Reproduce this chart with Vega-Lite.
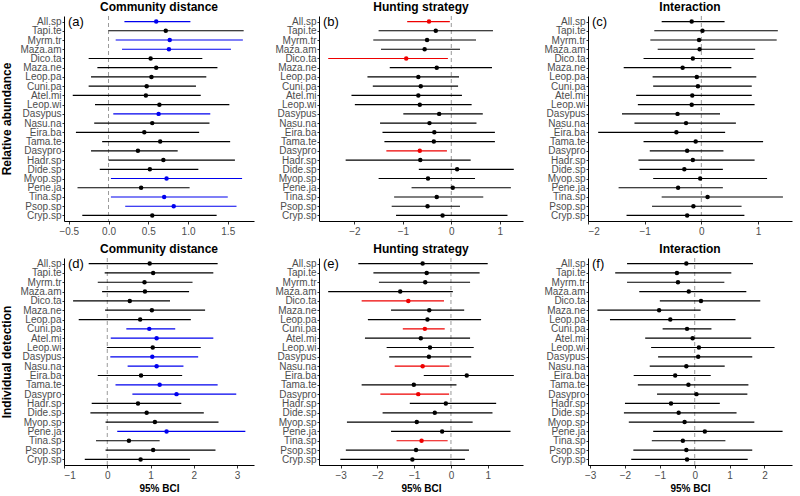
{
 "$schema": "https://vega.github.io/schema/vega-lite/v6.json",
 "padding": {"left": 0, "top": 0, "right": 4, "bottom": 0},
 "config": {
  "font": "Liberation Sans",
  "view": {"stroke": null},
  "axis": {"grid": false, "domainColor": "#000000", "domainWidth": 1, "tickColor": "#333333", "tickSize": 3, "labelColor": "#4d4d4d", "labelFontSize": 10, "titleFontWeight": "bold", "titleColor": "#000000"},
  "title": {"fontSize": 12, "fontWeight": "bold", "offset": 2, "color": "#000000", "frame": "group", "anchor": "middle"}
 },
 "datasets": {
  "d": [
   {"p":"a","sp":"All.sp","lo":0.20,"est":0.60,"hi":1.03,"s":"p"},
   {"p":"a","sp":"Tapi.te","lo":0.00,"est":0.72,"hi":1.70,"s":"n"},
   {"p":"a","sp":"Myrm.tr","lo":0.09,"est":0.77,"hi":1.69,"s":"p"},
   {"p":"a","sp":"Maza.am","lo":0.17,"est":0.76,"hi":1.54,"s":"p"},
   {"p":"a","sp":"Dico.ta","lo":-0.25,"est":0.53,"hi":1.18,"s":"n"},
   {"p":"a","sp":"Maza.ne","lo":-0.14,"est":0.60,"hi":1.37,"s":"n"},
   {"p":"a","sp":"Leop.pa","lo":-0.22,"est":0.54,"hi":1.23,"s":"n"},
   {"p":"a","sp":"Cuni.pa","lo":-0.25,"est":0.48,"hi":1.10,"s":"n"},
   {"p":"a","sp":"Atel.mi","lo":-0.45,"est":0.47,"hi":1.16,"s":"n"},
   {"p":"a","sp":"Leop.wi","lo":-0.17,"est":0.64,"hi":1.52,"s":"n"},
   {"p":"a","sp":"Dasypus","lo":0.06,"est":0.63,"hi":1.28,"s":"p"},
   {"p":"a","sp":"Nasu.na","lo":-0.18,"est":0.55,"hi":1.27,"s":"n"},
   {"p":"a","sp":"Eira.ba","lo":-0.41,"est":0.45,"hi":1.14,"s":"n"},
   {"p":"a","sp":"Tama.te","lo":-0.08,"est":0.65,"hi":1.53,"s":"n"},
   {"p":"a","sp":"Dasypro","lo":-0.22,"est":0.37,"hi":0.87,"s":"n"},
   {"p":"a","sp":"Hadr.sp","lo":0.00,"est":0.69,"hi":1.59,"s":"n"},
   {"p":"a","sp":"Dide.sp","lo":-0.11,"est":0.52,"hi":1.13,"s":"n"},
   {"p":"a","sp":"Myop.sp","lo":0.03,"est":0.73,"hi":1.68,"s":"p"},
   {"p":"a","sp":"Pene.ja","lo":-0.39,"est":0.41,"hi":1.02,"s":"n"},
   {"p":"a","sp":"Tina.sp","lo":0.03,"est":0.70,"hi":1.50,"s":"p"},
   {"p":"a","sp":"Psop.sp","lo":0.21,"est":0.82,"hi":1.61,"s":"p"},
   {"p":"a","sp":"Cryp.sp","lo":-0.33,"est":0.55,"hi":1.36,"s":"n"},

   {"p":"b","sp":"All.sp","lo":-0.91,"est":-0.46,"hi":-0.03,"s":"m"},
   {"p":"b","sp":"Tapi.te","lo":-1.50,"est":-0.32,"hi":0.86,"s":"n"},
   {"p":"b","sp":"Myrm.tr","lo":-1.61,"est":-0.50,"hi":0.51,"s":"n"},
   {"p":"b","sp":"Maza.am","lo":-1.45,"est":-0.55,"hi":0.18,"s":"n"},
   {"p":"b","sp":"Dico.ta","lo":-2.54,"est":-0.93,"hi":-0.07,"s":"m"},
   {"p":"b","sp":"Maza.ne","lo":-1.27,"est":-0.30,"hi":0.84,"s":"n"},
   {"p":"b","sp":"Leop.pa","lo":-1.73,"est":-0.68,"hi":0.16,"s":"n"},
   {"p":"b","sp":"Cuni.pa","lo":-1.62,"est":-0.63,"hi":0.14,"s":"n"},
   {"p":"b","sp":"Atel.mi","lo":-2.06,"est":-0.68,"hi":0.22,"s":"n"},
   {"p":"b","sp":"Leop.wi","lo":-1.99,"est":-0.65,"hi":0.42,"s":"n"},
   {"p":"b","sp":"Dasypus","lo":-0.99,"est":-0.25,"hi":0.65,"s":"n"},
   {"p":"b","sp":"Nasu.na","lo":-1.47,"est":-0.45,"hi":0.52,"s":"n"},
   {"p":"b","sp":"Eira.ba","lo":-1.42,"est":-0.35,"hi":0.90,"s":"n"},
   {"p":"b","sp":"Tama.te","lo":-1.38,"est":-0.36,"hi":0.90,"s":"n"},
   {"p":"b","sp":"Dasypro","lo":-1.34,"est":-0.65,"hi":-0.09,"s":"m"},
   {"p":"b","sp":"Hadr.sp","lo":-2.18,"est":-0.64,"hi":0.40,"s":"n"},
   {"p":"b","sp":"Dide.sp","lo":-0.67,"est":0.12,"hi":1.29,"s":"n"},
   {"p":"b","sp":"Myop.sp","lo":-1.50,"est":-0.48,"hi":0.49,"s":"n"},
   {"p":"b","sp":"Pene.ja","lo":-0.82,"est":0.03,"hi":1.23,"s":"n"},
   {"p":"b","sp":"Tina.sp","lo":-1.18,"est":-0.30,"hi":0.66,"s":"n"},
   {"p":"b","sp":"Psop.sp","lo":-1.23,"est":-0.49,"hi":0.18,"s":"n"},
   {"p":"b","sp":"Cryp.sp","lo":-1.14,"est":-0.18,"hi":1.16,"s":"n"},

   {"p":"c","sp":"All.sp","lo":-0.70,"est":-0.17,"hi":0.41,"s":"n"},
   {"p":"c","sp":"Tapi.te","lo":-0.83,"est":0.02,"hi":1.35,"s":"n"},
   {"p":"c","sp":"Myrm.tr","lo":-0.90,"est":-0.04,"hi":1.33,"s":"n"},
   {"p":"c","sp":"Maza.am","lo":-0.77,"est":-0.03,"hi":0.95,"s":"n"},
   {"p":"c","sp":"Dico.ta","lo":-1.02,"est":-0.15,"hi":0.92,"s":"n"},
   {"p":"c","sp":"Maza.ne","lo":-1.37,"est":-0.33,"hi":0.53,"s":"n"},
   {"p":"c","sp":"Leop.pa","lo":-0.86,"est":-0.08,"hi":0.97,"s":"n"},
   {"p":"c","sp":"Cuni.pa","lo":-0.85,"est":-0.06,"hi":0.89,"s":"n"},
   {"p":"c","sp":"Atel.mi","lo":-1.15,"est":-0.16,"hi":0.89,"s":"n"},
   {"p":"c","sp":"Leop.wi","lo":-1.12,"est":-0.17,"hi":0.94,"s":"n"},
   {"p":"c","sp":"Dasypus","lo":-1.40,"est":-0.42,"hi":0.33,"s":"n"},
   {"p":"c","sp":"Nasu.na","lo":-1.18,"est":-0.27,"hi":0.61,"s":"n"},
   {"p":"c","sp":"Eira.ba","lo":-1.82,"est":-0.44,"hi":0.42,"s":"n"},
   {"p":"c","sp":"Tama.te","lo":-1.02,"est":-0.10,"hi":1.09,"s":"n"},
   {"p":"c","sp":"Dasypro","lo":-0.91,"est":-0.25,"hi":0.39,"s":"n"},
   {"p":"c","sp":"Hadr.sp","lo":-1.11,"est":-0.15,"hi":0.94,"s":"n"},
   {"p":"c","sp":"Dide.sp","lo":-1.09,"est":-0.30,"hi":0.38,"s":"n"},
   {"p":"c","sp":"Myop.sp","lo":-0.85,"est":-0.02,"hi":1.16,"s":"n"},
   {"p":"c","sp":"Pene.ja","lo":-1.46,"est":-0.41,"hi":0.38,"s":"n"},
   {"p":"c","sp":"Tina.sp","lo":-0.70,"est":0.11,"hi":1.44,"s":"n"},
   {"p":"c","sp":"Psop.sp","lo":-0.87,"est":-0.14,"hi":0.71,"s":"n"},
   {"p":"c","sp":"Cryp.sp","lo":-1.32,"est":-0.25,"hi":0.76,"s":"n"},

   {"p":"d","sp":"All.sp","lo":-0.43,"est":0.98,"hi":2.55,"s":"n"},
   {"p":"d","sp":"Tapi.te","lo":-0.06,"est":1.06,"hi":2.45,"s":"n"},
   {"p":"d","sp":"Myrm.tr","lo":-0.22,"est":0.86,"hi":1.97,"s":"n"},
   {"p":"d","sp":"Maza.am","lo":-0.12,"est":0.87,"hi":1.89,"s":"n"},
   {"p":"d","sp":"Dico.ta","lo":-0.79,"est":0.52,"hi":1.45,"s":"n"},
   {"p":"d","sp":"Maza.ne","lo":-0.05,"est":1.03,"hi":2.26,"s":"n"},
   {"p":"d","sp":"Leop.pa","lo":-0.66,"est":0.76,"hi":1.93,"s":"n"},
   {"p":"d","sp":"Cuni.pa","lo":0.44,"est":0.97,"hi":1.57,"s":"p"},
   {"p":"d","sp":"Atel.mi","lo":0.08,"est":1.14,"hi":2.45,"s":"p"},
   {"p":"d","sp":"Leop.wi","lo":-0.01,"est":1.05,"hi":2.16,"s":"n"},
   {"p":"d","sp":"Dasypus","lo":0.07,"est":1.04,"hi":2.10,"s":"p"},
   {"p":"d","sp":"Nasu.na","lo":0.47,"est":1.14,"hi":1.76,"s":"p"},
   {"p":"d","sp":"Eira.ba","lo":-0.22,"est":0.78,"hi":1.73,"s":"n"},
   {"p":"d","sp":"Tama.te","lo":0.19,"est":1.21,"hi":2.55,"s":"p"},
   {"p":"d","sp":"Dasypro","lo":0.58,"est":1.60,"hi":2.98,"s":"p"},
   {"p":"d","sp":"Hadr.sp","lo":-0.36,"est":0.71,"hi":1.71,"s":"n"},
   {"p":"d","sp":"Dide.sp","lo":-0.39,"est":0.91,"hi":2.23,"s":"n"},
   {"p":"d","sp":"Myop.sp","lo":-0.04,"est":1.10,"hi":2.57,"s":"n"},
   {"p":"d","sp":"Pene.ja","lo":0.23,"est":1.37,"hi":3.19,"s":"p"},
   {"p":"d","sp":"Tina.sp","lo":-0.26,"est":0.50,"hi":1.21,"s":"n"},
   {"p":"d","sp":"Psop.sp","lo":-0.04,"est":1.06,"hi":2.50,"s":"n"},
   {"p":"d","sp":"Cryp.sp","lo":-0.52,"est":0.77,"hi":1.91,"s":"n"},

   {"p":"e","sp":"All.sp","lo":-2.52,"est":-0.77,"hi":1.00,"s":"n"},
   {"p":"e","sp":"Tapi.te","lo":-2.11,"est":-0.66,"hi":0.78,"s":"n"},
   {"p":"e","sp":"Myrm.tr","lo":-1.96,"est":-0.70,"hi":0.52,"s":"n"},
   {"p":"e","sp":"Maza.am","lo":-3.34,"est":-1.38,"hi":0.05,"s":"n"},
   {"p":"e","sp":"Dico.ta","lo":-2.43,"est":-1.16,"hi":-0.19,"s":"m"},
   {"p":"e","sp":"Maza.ne","lo":-1.63,"est":-0.59,"hi":0.36,"s":"n"},
   {"p":"e","sp":"Leop.pa","lo":-2.26,"est":-0.64,"hi":0.82,"s":"n"},
   {"p":"e","sp":"Cuni.pa","lo":-1.31,"est":-0.71,"hi":-0.17,"s":"m"},
   {"p":"e","sp":"Atel.mi","lo":-2.34,"est":-0.82,"hi":0.52,"s":"n"},
   {"p":"e","sp":"Leop.wi","lo":-1.75,"est":-0.57,"hi":0.62,"s":"n"},
   {"p":"e","sp":"Dasypus","lo":-1.68,"est":-0.60,"hi":0.55,"s":"n"},
   {"p":"e","sp":"Nasu.na","lo":-1.53,"est":-0.77,"hi":-0.04,"s":"m"},
   {"p":"e","sp":"Eira.ba","lo":-0.74,"est":0.43,"hi":1.71,"s":"n"},
   {"p":"e","sp":"Tama.te","lo":-2.43,"est":-1.01,"hi":0.15,"s":"n"},
   {"p":"e","sp":"Dasypro","lo":-1.92,"est":-0.89,"hi":-0.05,"s":"m"},
   {"p":"e","sp":"Hadr.sp","lo":-1.12,"est":-0.14,"hi":1.23,"s":"n"},
   {"p":"e","sp":"Dide.sp","lo":-1.86,"est":-0.44,"hi":1.13,"s":"n"},
   {"p":"e","sp":"Myop.sp","lo":-2.83,"est":-0.93,"hi":0.59,"s":"n"},
   {"p":"e","sp":"Pene.ja","lo":-1.63,"est":-0.24,"hi":1.62,"s":"n"},
   {"p":"e","sp":"Tina.sp","lo":-1.48,"est":-0.80,"hi":-0.09,"s":"m"},
   {"p":"e","sp":"Psop.sp","lo":-2.86,"est":-0.95,"hi":0.49,"s":"n"},
   {"p":"e","sp":"Cryp.sp","lo":-3.01,"est":-1.05,"hi":0.38,"s":"n"},

   {"p":"f","sp":"All.sp","lo":-1.94,"est":-0.24,"hi":1.67,"s":"n"},
   {"p":"f","sp":"Tapi.te","lo":-2.28,"est":-0.51,"hi":1.05,"s":"n"},
   {"p":"f","sp":"Myrm.tr","lo":-1.94,"est":-0.48,"hi":0.85,"s":"n"},
   {"p":"f","sp":"Maza.am","lo":-1.59,"est":-0.17,"hi":1.48,"s":"n"},
   {"p":"f","sp":"Dico.ta","lo":-1.00,"est":0.18,"hi":1.88,"s":"n"},
   {"p":"f","sp":"Maza.ne","lo":-2.79,"est":-1.02,"hi":0.17,"s":"n"},
   {"p":"f","sp":"Leop.pa","lo":-2.43,"est":-0.70,"hi":1.17,"s":"n"},
   {"p":"f","sp":"Cuni.pa","lo":-0.92,"est":-0.22,"hi":0.48,"s":"n"},
   {"p":"f","sp":"Atel.mi","lo":-1.42,"est":-0.06,"hi":1.62,"s":"n"},
   {"p":"f","sp":"Leop.wi","lo":-1.25,"est":0.12,"hi":2.29,"s":"n"},
   {"p":"f","sp":"Dasypus","lo":-1.05,"est":0.10,"hi":1.65,"s":"n"},
   {"p":"f","sp":"Nasu.na","lo":-1.29,"est":-0.24,"hi":0.86,"s":"n"},
   {"p":"f","sp":"Eira.ba","lo":-1.75,"est":-0.56,"hi":0.46,"s":"n"},
   {"p":"f","sp":"Tama.te","lo":-1.63,"est":-0.18,"hi":1.54,"s":"n"},
   {"p":"f","sp":"Dasypro","lo":-1.08,"est":0.05,"hi":1.51,"s":"n"},
   {"p":"f","sp":"Hadr.sp","lo":-2.00,"est":-0.68,"hi":0.72,"s":"n"},
   {"p":"f","sp":"Dide.sp","lo":-2.03,"est":-0.46,"hi":1.20,"s":"n"},
   {"p":"f","sp":"Myop.sp","lo":-1.89,"est":-0.29,"hi":1.71,"s":"n"},
   {"p":"f","sp":"Pene.ja","lo":-1.19,"est":0.29,"hi":2.52,"s":"n"},
   {"p":"f","sp":"Tina.sp","lo":-1.23,"est":-0.34,"hi":0.88,"s":"n"},
   {"p":"f","sp":"Psop.sp","lo":-1.76,"est":-0.24,"hi":1.65,"s":"n"},
   {"p":"f","sp":"Cryp.sp","lo":-1.82,"est":-0.22,"hi":1.52,"s":"n"}
  ]
 },
 "spacing": 6,
 "vconcat": [
  {"spacing": 20, "hconcat": [
   {"width": 190, "height": 205, "title": "Community distance",
    "layer": [
     {"data": {"values": [{"z": 0}]}, "mark": {"type": "rule", "color": "#9a9a9a", "strokeDash": [4, 3], "strokeWidth": 1}, "encoding": {"x": {"field": "z", "type": "quantitative"}}},
     {"data": {"name": "d"}, "transform": [{"filter": "datum.p === 'a'"}],
      "encoding": {
       "y": {"field": "sp", "type": "nominal", "scale": {"type": "point", "padding": 0.6, "domain": ["All.sp","Tapi.te","Myrm.tr","Maza.am","Dico.ta","Maza.ne","Leop.pa","Cuni.pa","Atel.mi","Leop.wi","Dasypus","Nasu.na","Eira.ba","Tama.te","Dasypro","Hadr.sp","Dide.sp","Myop.sp","Pene.ja","Tina.sp","Psop.sp","Cryp.sp"]}, "axis": {"title": "Relative abundance", "titleFontSize": 12, "titlePadding": 6, "tickSize": 2, "labelPadding": 1}},
       "color": {"field": "s", "type": "nominal", "scale": {"domain": ["n","p","m"], "range": ["#000000","#0000ee","#ee0000"]}, "legend": null}
      },
      "layer": [
       {"mark": {"type": "rule", "strokeWidth": 1.2}, "encoding": {"x": {"field": "lo", "type": "quantitative", "scale": {"domain": [-0.56, 1.83], "nice": false, "zero": false}, "axis": {"title": null, "values": [-0.5, 0, 0.5, 1, 1.5], "format": ".1f"}}, "x2": {"field": "hi"}}},
       {"mark": {"type": "point", "filled": true, "size": 20, "opacity": 1}, "encoding": {"x": {"field": "est", "type": "quantitative"}}}
      ]},
     {"data": {"values": [{"lab": "(a)", "row": "All.sp", "x0": -0.56}]}, "mark": {"type": "text", "align": "left", "baseline": "middle", "dx": 4, "fontSize": 13, "color": "#000000"}, "encoding": {"x": {"field": "x0", "type": "quantitative"}, "y": {"field": "row", "type": "nominal"}, "text": {"field": "lab"}}}
    ]},
   {"width": 204, "height": 205, "title": "Hunting strategy",
    "layer": [
     {"data": {"values": [{"z": 0}]}, "mark": {"type": "rule", "color": "#9a9a9a", "strokeDash": [4, 3], "strokeWidth": 1}, "encoding": {"x": {"field": "z", "type": "quantitative"}}},
     {"data": {"name": "d"}, "transform": [{"filter": "datum.p === 'b'"}],
      "encoding": {
       "y": {"field": "sp", "type": "nominal", "scale": {"type": "point", "padding": 0.6, "domain": ["All.sp","Tapi.te","Myrm.tr","Maza.am","Dico.ta","Maza.ne","Leop.pa","Cuni.pa","Atel.mi","Leop.wi","Dasypus","Nasu.na","Eira.ba","Tama.te","Dasypro","Hadr.sp","Dide.sp","Myop.sp","Pene.ja","Tina.sp","Psop.sp","Cryp.sp"]}, "axis": {"title": null, "tickSize": 2, "labelPadding": 1}},
       "color": {"field": "s", "type": "nominal", "scale": {"domain": ["n","p","m"], "range": ["#000000","#0000ee","#ee0000"]}, "legend": null}
      },
      "layer": [
       {"mark": {"type": "rule", "strokeWidth": 1.2}, "encoding": {"x": {"field": "lo", "type": "quantitative", "scale": {"domain": [-2.73, 1.48], "nice": false, "zero": false}, "axis": {"title": null, "values": [-2, -1, 0, 1], "format": "d"}}, "x2": {"field": "hi"}}},
       {"mark": {"type": "point", "filled": true, "size": 20, "opacity": 1}, "encoding": {"x": {"field": "est", "type": "quantitative"}}}
      ]},
     {"data": {"values": [{"lab": "(b)", "row": "All.sp", "x0": -2.73}]}, "mark": {"type": "text", "align": "left", "baseline": "middle", "dx": 4, "fontSize": 13, "color": "#000000"}, "encoding": {"x": {"field": "x0", "type": "quantitative"}, "y": {"field": "row", "type": "nominal"}, "text": {"field": "lab"}}}
    ]},
   {"width": 204, "height": 205, "title": "Interaction",
    "layer": [
     {"data": {"values": [{"z": 0}]}, "mark": {"type": "rule", "color": "#9a9a9a", "strokeDash": [4, 3], "strokeWidth": 1}, "encoding": {"x": {"field": "z", "type": "quantitative"}}},
     {"data": {"name": "d"}, "transform": [{"filter": "datum.p === 'c'"}],
      "encoding": {
       "y": {"field": "sp", "type": "nominal", "scale": {"type": "point", "padding": 0.6, "domain": ["All.sp","Tapi.te","Myrm.tr","Maza.am","Dico.ta","Maza.ne","Leop.pa","Cuni.pa","Atel.mi","Leop.wi","Dasypus","Nasu.na","Eira.ba","Tama.te","Dasypro","Hadr.sp","Dide.sp","Myop.sp","Pene.ja","Tina.sp","Psop.sp","Cryp.sp"]}, "axis": {"title": null, "tickSize": 2, "labelPadding": 1}},
       "color": {"field": "s", "type": "nominal", "scale": {"domain": ["n","p","m"], "range": ["#000000","#0000ee","#ee0000"]}, "legend": null}
      },
      "layer": [
       {"mark": {"type": "rule", "strokeWidth": 1.2}, "encoding": {"x": {"field": "lo", "type": "quantitative", "scale": {"domain": [-2.0, 1.6], "nice": false, "zero": false}, "axis": {"title": null, "values": [-2, -1, 0, 1], "format": "d"}}, "x2": {"field": "hi"}}},
       {"mark": {"type": "point", "filled": true, "size": 20, "opacity": 1}, "encoding": {"x": {"field": "est", "type": "quantitative"}}}
      ]},
     {"data": {"values": [{"lab": "(c)", "row": "All.sp", "x0": -2.0}]}, "mark": {"type": "text", "align": "left", "baseline": "middle", "dx": 4, "fontSize": 13, "color": "#000000"}, "encoding": {"x": {"field": "x0", "type": "quantitative"}, "y": {"field": "row", "type": "nominal"}, "text": {"field": "lab"}}}
    ]}
  ]},
  {"spacing": 20, "hconcat": [
   {"width": 190, "height": 207, "title": "Community distance",
    "layer": [
     {"data": {"values": [{"z": 0}]}, "mark": {"type": "rule", "color": "#9a9a9a", "strokeDash": [4, 3], "strokeWidth": 1}, "encoding": {"x": {"field": "z", "type": "quantitative"}}},
     {"data": {"name": "d"}, "transform": [{"filter": "datum.p === 'd'"}],
      "encoding": {
       "y": {"field": "sp", "type": "nominal", "scale": {"type": "point", "padding": 0.6, "domain": ["All.sp","Tapi.te","Myrm.tr","Maza.am","Dico.ta","Maza.ne","Leop.pa","Cuni.pa","Atel.mi","Leop.wi","Dasypus","Nasu.na","Eira.ba","Tama.te","Dasypro","Hadr.sp","Dide.sp","Myop.sp","Pene.ja","Tina.sp","Psop.sp","Cryp.sp"]}, "axis": {"title": "Individual detection", "titleFontSize": 12, "titlePadding": 6, "tickSize": 2, "labelPadding": 1}},
       "color": {"field": "s", "type": "nominal", "scale": {"domain": ["n","p","m"], "range": ["#000000","#0000ee","#ee0000"]}, "legend": null}
      },
      "layer": [
       {"mark": {"type": "rule", "strokeWidth": 1.2}, "encoding": {"x": {"field": "lo", "type": "quantitative", "scale": {"domain": [-1.0, 3.39], "nice": false, "zero": false}, "axis": {"title": "95% BCI", "titleFontSize": 10, "titlePadding": 3, "values": [-1, 0, 1, 2, 3], "format": "d"}}, "x2": {"field": "hi"}}},
       {"mark": {"type": "point", "filled": true, "size": 20, "opacity": 1}, "encoding": {"x": {"field": "est", "type": "quantitative"}}}
      ]},
     {"data": {"values": [{"lab": "(d)", "row": "All.sp", "x0": -1.0}]}, "mark": {"type": "text", "align": "left", "baseline": "middle", "dx": 4, "fontSize": 13, "color": "#000000"}, "encoding": {"x": {"field": "x0", "type": "quantitative"}, "y": {"field": "row", "type": "nominal"}, "text": {"field": "lab"}}}
    ]},
   {"width": 204, "height": 207, "title": "Hunting strategy",
    "layer": [
     {"data": {"values": [{"z": 0}]}, "mark": {"type": "rule", "color": "#9a9a9a", "strokeDash": [4, 3], "strokeWidth": 1}, "encoding": {"x": {"field": "z", "type": "quantitative"}}},
     {"data": {"name": "d"}, "transform": [{"filter": "datum.p === 'e'"}],
      "encoding": {
       "y": {"field": "sp", "type": "nominal", "scale": {"type": "point", "padding": 0.6, "domain": ["All.sp","Tapi.te","Myrm.tr","Maza.am","Dico.ta","Maza.ne","Leop.pa","Cuni.pa","Atel.mi","Leop.wi","Dasypus","Nasu.na","Eira.ba","Tama.te","Dasypro","Hadr.sp","Dide.sp","Myop.sp","Pene.ja","Tina.sp","Psop.sp","Cryp.sp"]}, "axis": {"title": null, "tickSize": 2, "labelPadding": 1}},
       "color": {"field": "s", "type": "nominal", "scale": {"domain": ["n","p","m"], "range": ["#000000","#0000ee","#ee0000"]}, "legend": null}
      },
      "layer": [
       {"mark": {"type": "rule", "strokeWidth": 1.2}, "encoding": {"x": {"field": "lo", "type": "quantitative", "scale": {"domain": [-3.59, 1.96], "nice": false, "zero": false}, "axis": {"title": "95% BCI", "titleFontSize": 10, "titlePadding": 3, "values": [-3, -2, -1, 0, 1], "format": "d"}}, "x2": {"field": "hi"}}},
       {"mark": {"type": "point", "filled": true, "size": 20, "opacity": 1}, "encoding": {"x": {"field": "est", "type": "quantitative"}}}
      ]},
     {"data": {"values": [{"lab": "(e)", "row": "All.sp", "x0": -3.59}]}, "mark": {"type": "text", "align": "left", "baseline": "middle", "dx": 4, "fontSize": 13, "color": "#000000"}, "encoding": {"x": {"field": "x0", "type": "quantitative"}, "y": {"field": "row", "type": "nominal"}, "text": {"field": "lab"}}}
    ]},
   {"width": 204, "height": 207, "title": "Interaction",
    "layer": [
     {"data": {"values": [{"z": 0}]}, "mark": {"type": "rule", "color": "#9a9a9a", "strokeDash": [4, 3], "strokeWidth": 1}, "encoding": {"x": {"field": "z", "type": "quantitative"}}},
     {"data": {"name": "d"}, "transform": [{"filter": "datum.p === 'f'"}],
      "encoding": {
       "y": {"field": "sp", "type": "nominal", "scale": {"type": "point", "padding": 0.6, "domain": ["All.sp","Tapi.te","Myrm.tr","Maza.am","Dico.ta","Maza.ne","Leop.pa","Cuni.pa","Atel.mi","Leop.wi","Dasypus","Nasu.na","Eira.ba","Tama.te","Dasypro","Hadr.sp","Dide.sp","Myop.sp","Pene.ja","Tina.sp","Psop.sp","Cryp.sp"]}, "axis": {"title": null, "tickSize": 2, "labelPadding": 1}},
       "color": {"field": "s", "type": "nominal", "scale": {"domain": ["n","p","m"], "range": ["#000000","#0000ee","#ee0000"]}, "legend": null}
      },
      "layer": [
       {"mark": {"type": "rule", "strokeWidth": 1.2}, "encoding": {"x": {"field": "lo", "type": "quantitative", "scale": {"domain": [-3.06, 2.79], "nice": false, "zero": false}, "axis": {"title": "95% BCI", "titleFontSize": 10, "titlePadding": 3, "values": [-3, -2, -1, 0, 1, 2], "format": "d"}}, "x2": {"field": "hi"}}},
       {"mark": {"type": "point", "filled": true, "size": 20, "opacity": 1}, "encoding": {"x": {"field": "est", "type": "quantitative"}}}
      ]},
     {"data": {"values": [{"lab": "(f)", "row": "All.sp", "x0": -3.06}]}, "mark": {"type": "text", "align": "left", "baseline": "middle", "dx": 4, "fontSize": 13, "color": "#000000"}, "encoding": {"x": {"field": "x0", "type": "quantitative"}, "y": {"field": "row", "type": "nominal"}, "text": {"field": "lab"}}}
    ]}
  ]}
 ]
}
